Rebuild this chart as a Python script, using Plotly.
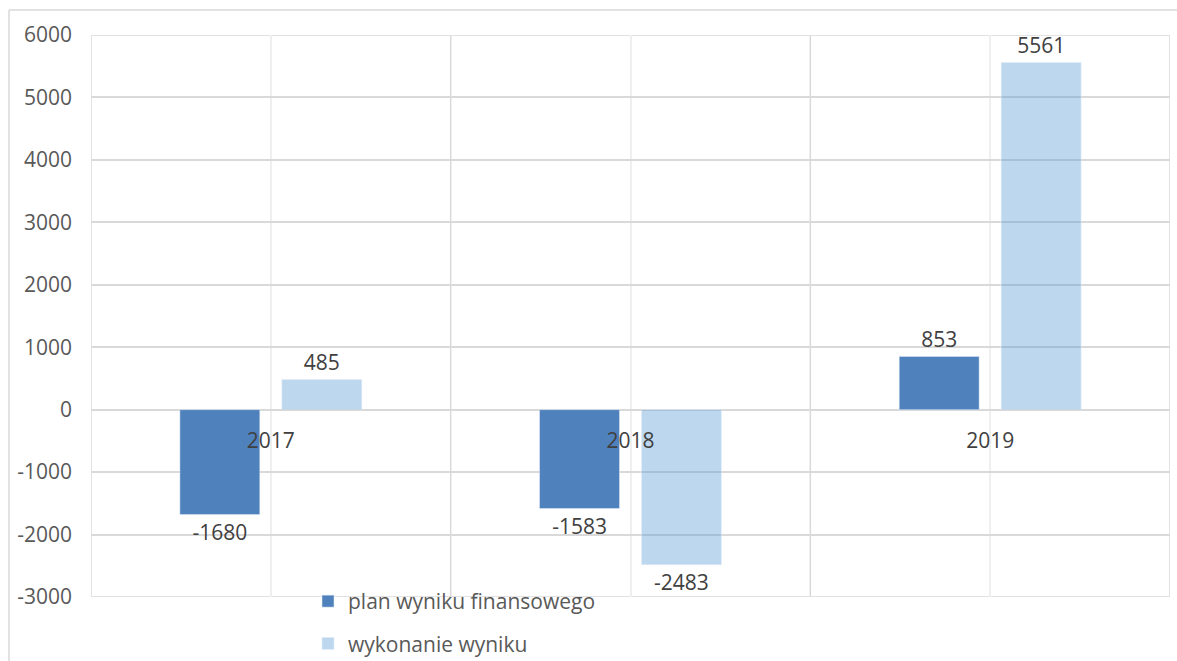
import plotly.graph_objects as go

years = ["2017", "2018", "2019"]
plan = [-1680, -1583, 853]
wykonanie = [485, -2483, 5561]
series_names = ["plan wyniku finansowego", "wykonanie wyniku"]
y_ticks = [-3000, -2000, -1000, 0, 1000, 2000, 3000, 4000, 5000, 6000]

FONT = "Open Sans"
TXT = "#404040"
GRID = "#d9d9d9"
FS = 21

fig = go.Figure()
fig.add_bar(x=years, y=plan, name=series_names[0], marker_color="#4f81bd",
            legendgroup="a",
            text=[str(v) for v in plan], textposition="outside",
            textfont=dict(size=FS, color=TXT, family=FONT), cliponaxis=False)
fig.add_bar(x=years, y=wykonanie, name=series_names[1], marker_color="rgba(91,155,213,0.4)",
            legendgroup="b",
            text=[str(v) for v in wykonanie], textposition="outside",
            textfont=dict(size=FS, color=TXT, family=FONT), cliponaxis=False)

W, H = 1177, 661
L, R, T, B = 91, 7, 35, 64
pw, ph = W - L - R, H - T - B

def px_x(p):
    return (p - L) / pw

def px_y(p):
    return (H - B - p) / ph

shapes = []
for xb in [-0.5, 0.5, 1.5, 2.5]:
    shapes.append(dict(type="line", xref="x", yref="y", x0=xb, x1=xb,
                       y0=y_ticks[0], y1=y_ticks[-1],
                       line=dict(color=GRID, width=1.5), layer="below"))
for yb in [y_ticks[0], y_ticks[-1]]:
    shapes.append(dict(type="line", xref="paper", yref="y", x0=0, x1=1,
                       y0=yb, y1=yb,
                       line=dict(color=GRID, width=1.5), layer="below"))
shapes.append(dict(type="line", xref="paper", yref="paper",
                   x0=px_x(9), x1=px_x(9), y0=px_y(661), y1=px_y(10),
                   line=dict(color=GRID, width=1.5)))
shapes.append(dict(type="line", xref="paper", yref="paper",
                   x0=px_x(9), x1=px_x(1177), y0=px_y(10), y1=px_y(10),
                   line=dict(color=GRID, width=1.5)))

zero_pos = (0 - y_ticks[0]) / (y_ticks[-1] - y_ticks[0])

fig.update_layout(
    width=W, height=H,
    margin=dict(l=L, r=R, t=T, b=B, autoexpand=False),
    paper_bgcolor="white", plot_bgcolor="white",
    barmode="group", bargap=0.433, bargroupgap=0.216,
    font=dict(family=FONT, color="#595959", size=FS),
    showlegend=True,
    legend=dict(orientation="v", x=px_x(308), y=px_y(581), xanchor="left", yanchor="top",
                font=dict(size=FS, color="#595959", family=FONT),
                bgcolor="rgba(0,0,0,0)", itemwidth=30, tracegroupgap=12),
    shapes=shapes,
    xaxis=dict(type="category", anchor="free", position=zero_pos,
               showgrid=True, gridcolor="#efefef", gridwidth=1.5,
               showline=False, ticks="", zeroline=False, automargin=False,
               tickfont=dict(size=FS, color=TXT, family=FONT),
               ticklabelstandoff=16, range=[-0.5, 2.5]),
    yaxis=dict(range=[y_ticks[0], y_ticks[-1]], tickvals=y_ticks,
               ticktext=[str(v) for v in y_ticks],
               showgrid=True, gridcolor=GRID, gridwidth=1.5,
               zeroline=True, zerolinecolor=GRID, zerolinewidth=1.5,
               showline=False, ticks="", automargin=False,
               tickfont=dict(size=FS, color="#595959", family=FONT),
               ticklabelstandoff=18),
)

fig.write_html("out.html", config={"displayModeBar": False},
               post_script="document.body.style.margin='0';document.body.style.overflow='hidden';")
